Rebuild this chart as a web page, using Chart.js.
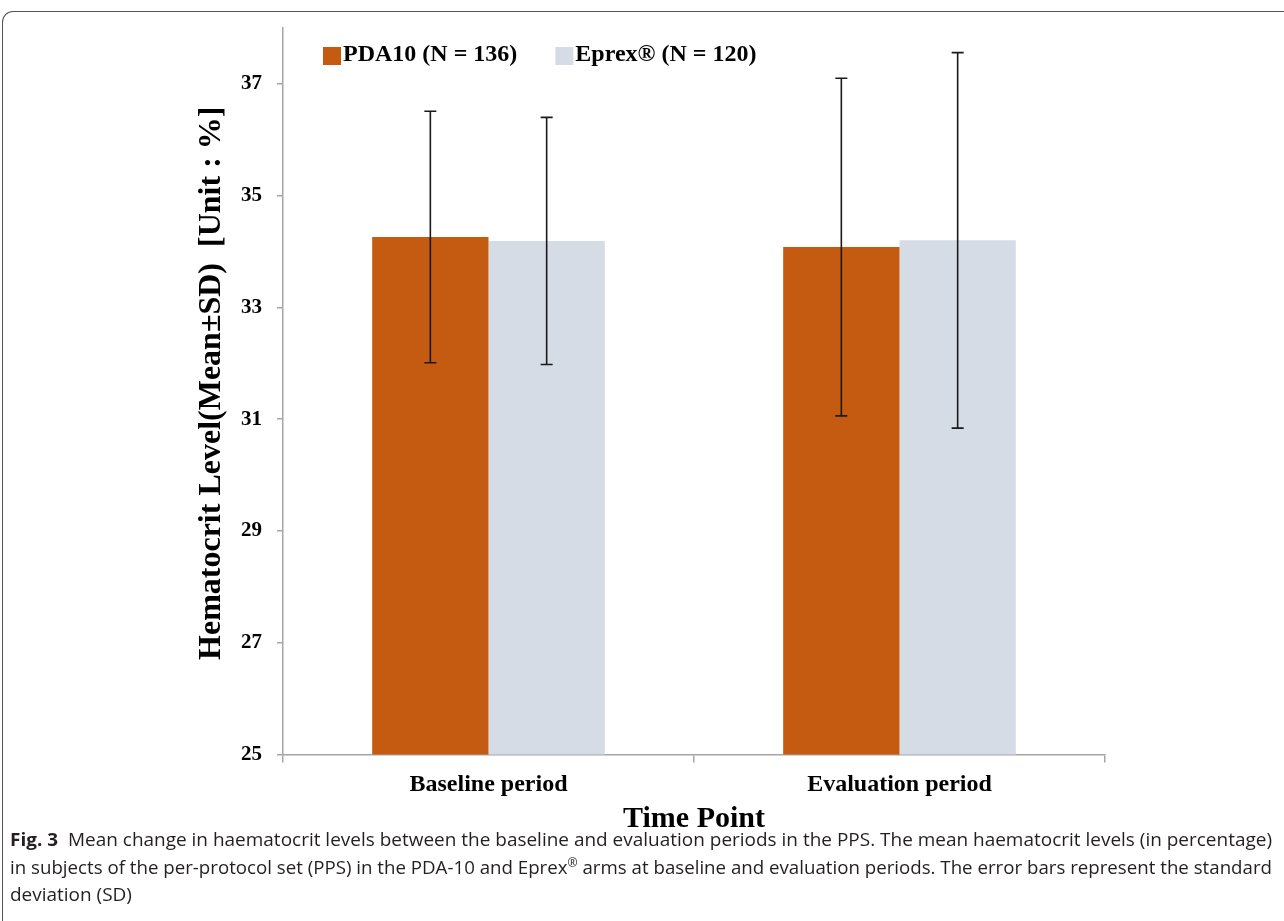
<!DOCTYPE html>
<html>
<head>
<meta charset="utf-8">
<script src="https://cdn.jsdelivr.net/npm/chart.js@4.4.1/dist/chart.umd.min.js"></script>
<style>
  html, body { margin: 0; padding: 0; background: #fff; }
  body { width: 1284px; height: 921px; position: relative; overflow: hidden; }
  #frame { position: absolute; left: 2px; top: 11px; width: 1400px; height: 1000px;
           border-left: 1.5px solid #555; border-top: 1.5px solid #555; border-top-left-radius: 11px; }
  #wrap { position: absolute; left: 0; top: 0; width: 1284px; height: 840px; }
  #caption { position: absolute; left: 10px; top: 826px; font-family: "Open Sans", "DejaVu Sans Condensed", sans-serif;
             font-size: 18px; line-height: 27.5px; color: #231f20; }
  #caption .ln { white-space: nowrap; display: block; transform-origin: 0 0; width: max-content; }
  #caption b { font-weight: bold; }
  sup { font-size: 65%; line-height: 0; }
</style>
</head>
<body>
<div id="frame"></div>
<div id="wrap"><canvas id="c"></canvas></div>
<div id="caption">
  <span class="ln" id="l1"><b>Fig. 3</b>&nbsp; Mean change in haematocrit levels between the baseline and evaluation periods in the PPS. The mean haematocrit levels (in percentage)</span>
  <span class="ln" id="l2">in subjects of the per-protocol set (PPS) in the PDA-10 and Eprex<sup>®</sup> arms at baseline and evaluation periods. The error bars represent the standard</span>
  <span class="ln" id="l3">deviation (SD)</span>
</div>
<script>
// ---- data ----
const categories = ["Baseline period", "Evaluation period"];
const seriesNames = ["PDA10 (N = 136)", "Eprex® (N = 120)"];
const pdaMean = [34.26, 34.08];
const pdaSD = [2.25, 3.02];
const eprexMean = [34.19, 34.20];
const eprexSD = [2.21, 3.36];
const yTicks = [25, 27, 29, 31, 33, 35, 37];
const yMin = 25, yMax = 38;

const SERIF = '"Liberation Serif", "Times New Roman", serif';
const AXIS_COLOR = '#a6a6a6';

const errorBars = {
  id: 'errorBars',
  afterDatasetsDraw(chart) {
    const ctx = chart.ctx;
    const y = chart.scales.y;
    ctx.save();
    ctx.strokeStyle = '#1a1a1a';
    ctx.lineWidth = 1.6;
    chart.data.datasets.forEach((ds, di) => {
      const meta = chart.getDatasetMeta(di);
      meta.data.forEach((bar, i) => {
        const m = ds.data[i], s = ds.sd[i];
        const x = bar.x;
        const yt = y.getPixelForValue(m + s);
        const yb = y.getPixelForValue(m - s);
        const cap = 6;
        ctx.beginPath();
        ctx.moveTo(x, yt); ctx.lineTo(x, yb);
        ctx.moveTo(x - cap, yt); ctx.lineTo(x + cap, yt);
        ctx.moveTo(x - cap, yb); ctx.lineTo(x + cap, yb);
        ctx.stroke();
      });
    });
    ctx.restore();
  }
};

const customLegend = {
  id: 'customLegend',
  afterDraw(chart) {
    const ctx = chart.ctx;
    const area = chart.chartArea;
    ctx.save();
    ctx.font = 'bold 24px ' + SERIF;
    ctx.textBaseline = 'middle';
    ctx.fillStyle = '#000';
    let x = area.left + 40;
    const cy = area.top + 27;
    const box = 18;
    chart.data.datasets.forEach((ds) => {
      ctx.fillStyle = ds.backgroundColor;
      ctx.fillRect(x, cy - box / 2 + 1, box, box);
      x += box + 2;
      ctx.fillStyle = '#000';
      ctx.fillText(ds.label, x, cy);
      x += ctx.measureText(ds.label).width + 38;
    });
    ctx.restore();
  }
};

new Chart(document.getElementById('c'), {
  type: 'bar',
  data: {
    labels: categories,
    datasets: [
      { label: seriesNames[0], data: pdaMean, sd: pdaSD, backgroundColor: '#c55a11' },
      { label: seriesNames[1], data: eprexMean, sd: eprexSD, backgroundColor: '#d6dce5' }
    ]
  },
  options: {
    responsive: true,
    maintainAspectRatio: false,
    animation: false,
    devicePixelRatio: 1,
    layout: { padding: { left: 193, right: 179, top: 28, bottom: 0 } },
    datasets: { bar: { barPercentage: 1.0, categoryPercentage: 0.566 } },
    plugins: { legend: { display: false }, tooltip: { enabled: false } },
    scales: {
      x: {
        offset: true,
        grid: { display: true, offset: true, drawOnChartArea: false, drawTicks: true, tickLength: 8, color: AXIS_COLOR, lineWidth: 1.5 },
        border: { display: true, color: AXIS_COLOR, width: 1.5 },
        ticks: { color: '#000', font: { family: SERIF, size: 24, weight: 'bold' }, padding: 8 },
        title: { display: true, text: 'Time Point', color: '#000', font: { family: SERIF, size: 30, weight: 'bold' }, padding: { top: 3, bottom: 3 } },
        afterFit(scale) { scale.height = 85.5; }
      },
      y: {
        min: yMin, max: yMax,
        afterBuildTicks(scale) { scale.ticks = yTicks.map(v => ({ value: v })); },
        grid: { display: true, drawOnChartArea: false, drawTicks: true, tickLength: 6, color: AXIS_COLOR, lineWidth: 1.5 },
        border: { display: true, color: AXIS_COLOR, width: 1.5 },
        ticks: { color: '#000', font: { family: SERIF, size: 21, weight: 'bold' }, padding: 15 },
        title: { display: true, text: '  Hematocrit Level(Mean±SD)  [Unit : %]', color: '#000', font: { family: SERIF, size: 32, weight: 'bold' }, padding: { top: 0, bottom: 0 } },
        afterFit(scale) { scale.width = 90; }
      }
    }
  },
  plugins: [errorBars, customLegend]
});

// fit caption lines to the column width
(function () {
  const target = 1262;
  const l1 = document.getElementById('l1');
  const l2 = document.getElementById('l2');
  const l3 = document.getElementById('l3');
  const f1 = target / l1.getBoundingClientRect().width;
  const f2 = target / l2.getBoundingClientRect().width;
  l1.style.transform = 'scaleX(' + f1 + ')';
  l2.style.transform = 'scaleX(' + f2 + ')';
  l3.style.transform = 'scaleX(' + f1 + ')';
})();
</script>
</body>
</html>
